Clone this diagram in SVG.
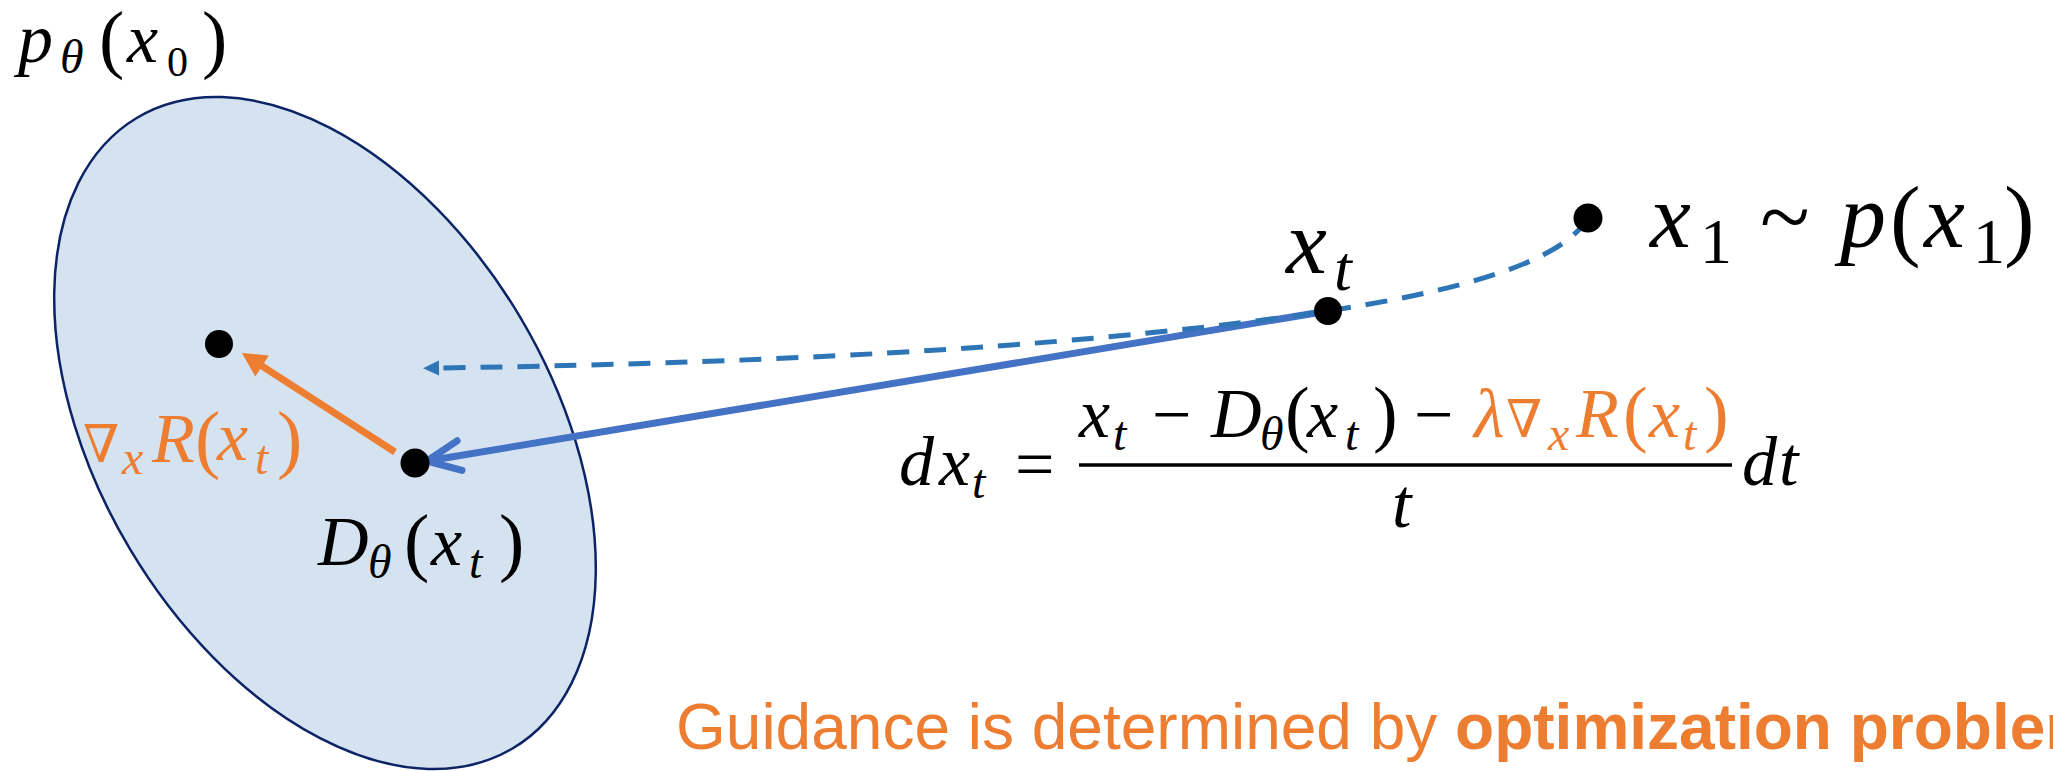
<svg xmlns="http://www.w3.org/2000/svg" width="2053" height="771" viewBox="0 0 2053 771">
<defs>
<style>
.m{font-family:"Liberation Serif","DejaVu Serif",serif;font-style:italic;fill:#000}
.u{font-style:normal}
.o{fill:#ED7D31}
.dot{fill:#000}
.g{font-family:"Liberation Sans",Arial,sans-serif;font-size:64px;fill:#ED7D31}
</style>
<marker id="tri-orange" markerUnits="userSpaceOnUse" orient="auto" refX="0" refY="0" markerWidth="30" markerHeight="30" overflow="visible">
<path d="M12,0 L-12,-12.5 L-12,12.5 Z" fill="#ED7D31"/>
</marker>
<marker id="tri-blue" markerUnits="userSpaceOnUse" orient="auto" refX="0" refY="0" markerWidth="20" markerHeight="20" overflow="visible">
<path d="M16,0 L0,-7.5 L0,7.5 Z" fill="#2E75B6"/>
</marker>
<marker id="vee-blue" markerUnits="userSpaceOnUse" orient="auto" refX="0" refY="0" markerWidth="40" markerHeight="40" overflow="visible">
<path d="M-33,-15 L0,0 L-33,15" fill="none" stroke="#4472C4" stroke-width="7" stroke-linecap="round" stroke-linejoin="round"/>
</marker>
</defs>
<rect width="2053" height="771" fill="#fff"/>

<g id="region-p0">
<ellipse cx="325" cy="433" rx="367" ry="227" transform="rotate(59.2 325 433)" fill="#D5E3F0" stroke="#0C2466" stroke-width="2.5"/>
<text class="m" font-size="70"><tspan x="18" y="62">p</tspan><tspan x="60" y="73" font-size="48">θ</tspan><tspan class="u" x="99" y="64" font-size="76">(</tspan><tspan x="127" y="62">x</tspan><tspan class="u" x="167" y="76" font-size="42">0</tspan><tspan class="u" x="202" y="64" font-size="76">)</tspan></text>
</g>

<g id="connectors">
<path d="M1328,311 L427,461" fill="none" stroke="#4472C4" stroke-width="7" marker-end="url(#vee-blue)"/>
<path d="M1588,218 C1560,265 1450,292 1328,311 Q1000,360 439,368" fill="none" stroke="#2E75B6" stroke-width="5" stroke-dasharray="22 15" marker-end="url(#tri-blue)"/>
<path d="M395,452 L252,359.5" fill="none" stroke="#ED7D31" stroke-width="7" marker-end="url(#tri-orange)"/>
</g>

<g id="node-guided">
<circle class="dot" cx="219" cy="344" r="14"/>
<text class="m o" font-size="70"><tspan class="u" x="83" y="462" font-size="52">∇</tspan><tspan x="122" y="474" font-size="48">x</tspan><tspan x="152" y="462">R</tspan><tspan class="u" x="195" y="464" font-size="76">(</tspan><tspan x="217" y="460">x</tspan><tspan x="255" y="474" font-size="48">t</tspan><tspan class="u" x="277" y="464" font-size="76">)</tspan></text>
</g>

<g id="node-denoised">
<circle class="dot" cx="415" cy="463" r="14.5"/>
<text class="m" font-size="70"><tspan x="318" y="565">D</tspan><tspan x="368" y="578" font-size="48">θ</tspan><tspan class="u" x="404" y="567" font-size="76">(</tspan><tspan x="431" y="565">x</tspan><tspan x="469" y="578" font-size="48">t</tspan><tspan class="u" x="499" y="567" font-size="76">)</tspan></text>
</g>

<g id="node-xt">
<circle class="dot" cx="1328" cy="311" r="14"/>
<text class="m" font-size="92"><tspan x="1286" y="273">x</tspan><tspan x="1334" y="290" font-size="64">t</tspan></text>
</g>

<g id="node-x1">
<circle class="dot" cx="1588" cy="218" r="14.5"/>
<text class="m" font-size="92"><tspan x="1650" y="247">x</tspan><tspan class="u" x="1700" y="263" font-size="64">1</tspan><tspan class="u" x="1760" y="247">~</tspan><tspan x="1840" y="247">p</tspan><tspan class="u" x="1890" y="249">(</tspan><tspan x="1924" y="247">x</tspan><tspan class="u" x="1973" y="263" font-size="64">1</tspan><tspan class="u" x="2004" y="249">)</tspan></text>
</g>

<g id="equation">
<text class="m" font-size="70"><tspan x="899" y="485">d</tspan><tspan x="939" y="485">x</tspan><tspan x="972" y="498" font-size="48">t</tspan><tspan class="u" x="1015" y="488">=</tspan><tspan x="1079" y="437">x</tspan><tspan x="1113" y="450" font-size="48">t</tspan><tspan class="u" x="1152" y="438">−</tspan><tspan x="1211" y="437">D</tspan><tspan x="1260" y="450" font-size="48">θ</tspan><tspan class="u" x="1285" y="438" font-size="74">(</tspan><tspan x="1307" y="437">x</tspan><tspan x="1345" y="450" font-size="48">t</tspan><tspan class="u" x="1373" y="438" font-size="74">)</tspan><tspan class="u" x="1414" y="438">−</tspan><tspan class="o" x="1474" y="437">λ</tspan><tspan class="u o" x="1506" y="437" font-size="52">∇</tspan><tspan class="o" x="1548" y="450" font-size="48">x</tspan><tspan class="o" x="1576" y="437">R</tspan><tspan class="u o" x="1623" y="438" font-size="74">(</tspan><tspan class="o" x="1649" y="437">x</tspan><tspan class="o" x="1683" y="450" font-size="48">t</tspan><tspan class="u o" x="1704" y="438" font-size="74">)</tspan><tspan x="1392" y="527">t</tspan><tspan x="1742" y="485">d</tspan><tspan x="1779" y="485">t</tspan></text>
<line x1="1079" y1="465" x2="1732" y2="465" stroke="#000" stroke-width="3.5"/>
</g>

<g id="caption">
<text class="g" x="676" y="749">Guidance is determined by <tspan font-weight="bold">optimization problem</tspan></text>
</g>
</svg>
